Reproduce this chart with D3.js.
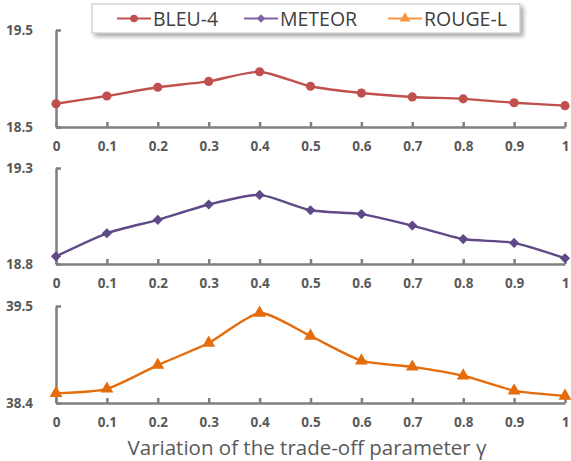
<!DOCTYPE html>
<html>
<head>
<meta charset="utf-8">
<script src="https://cdn.jsdelivr.net/npm/d3@7"></script>
<style>
  body { margin: 0; background: #ffffff; }
  svg { display: block; font-family: "Open Sans", sans-serif; }
  .axis path, .axis line { stroke: #7f7f7f; stroke-width: 2.5; }
  .axis text { fill: #595959; font-size: 13.5px; font-weight: bold; font-family: "Open Sans", sans-serif; }
</style>
</head>
<body>
<svg id="chart" width="571" height="461"></svg>
<script>
// trade-off parameter values along the x axis
var gammas = [0, 0.1, 0.2, 0.3, 0.4, 0.5, 0.6, 0.7, 0.8, 0.9, 1];
var xTickLabels = ["0", "0.1", "0.2", "0.3", "0.4", "0.5", "0.6", "0.7", "0.8", "0.9", "1"];

// scores
var bleu = [18.74, 18.82, 18.91, 18.97, 19.07, 18.92, 18.85, 18.81, 18.79, 18.75, 18.72];
var meteor = [18.84, 18.96, 19.03, 19.11, 19.16, 19.08, 19.06, 19.00, 18.93, 18.91, 18.83];
var rouge = [38.51, 38.56, 38.83, 39.08, 39.42, 39.16, 38.88, 38.81, 38.71, 38.54, 38.48];

// y axis range shown on each panel
var bleuRange = [18.5, 19.5];
var meteorRange = [18.8, 19.3];
var rougeRange = [38.4, 39.5];

var seriesNames = ["BLEU-4", "METEOR", "ROUGE-L"];

var svg = d3.select("#chart");

var x = d3.scaleLinear().domain([0, 1]).range([56, 565]);

var panels = [
    { name: seriesNames[0], values: bleu, range: bleuRange, top: 30, bottom: 127, line: "#c0504d", key: "#c0504d", symbol: d3.symbolCircle, size: 66 },
    { name: seriesNames[1], values: meteor, range: meteorRange, top: 168, bottom: 264, line: "#5f4a87", key: "#8064a2", symbol: d3.symbolDiamond2, size: 66 },
    { name: seriesNames[2], values: rouge, range: rougeRange, top: 306, bottom: 403, line: "#e46c0a", key: "#f79646", symbol: d3.symbolTriangle, size: 72 }
];

panels.forEach(function(p) {
    var y = d3.scaleLinear().domain(p.range).range([p.bottom, p.top]);
    var g = svg.append("g");

    // x axis with small ticks pointing up
    g.append("g")
        .attr("class", "axis")
        .attr("transform", "translate(0," + p.bottom + ")")
        .call(d3.axisBottom(x)
            .tickValues(gammas)
            .tickFormat(function(d, i) { return xTickLabels[i]; })
            .tickSizeInner(-5)
            .tickSizeOuter(0)
            .tickPadding(14));

    // y axis, only the two end values
    g.append("g")
        .attr("class", "axis")
        .attr("transform", "translate(" + x(0) + ",0)")
        .call(d3.axisLeft(y)
            .tickValues(p.range)
            .tickFormat(d3.format(".1f"))
            .tickSizeInner(-5)
            .tickSizeOuter(0)
            .tickPadding(23));

    var line = d3.line()
        .x(function(d, i) { return x(gammas[i]); })
        .y(function(d) { return y(d); })
        .curve(d3.curveCardinal.tension(0.35));

    g.append("path")
        .datum(p.values)
        .attr("d", line)
        .attr("fill", "none")
        .attr("stroke", p.line)
        .attr("stroke-width", 2.4);

    g.selectAll(".mark")
        .data(p.values)
        .enter().append("path")
        .attr("class", "mark")
        .attr("transform", function(d, i) { return "translate(" + x(gammas[i]) + "," + y(d) + ")"; })
        .attr("d", d3.symbol().type(p.symbol).size(p.size))
        .attr("fill", p.line);
});

// x axis title
svg.append("text")
    .attr("x", 307)
    .attr("y", 447)
    .attr("text-anchor", "middle")
    .attr("dominant-baseline", "central")
    .style("font-size", "20.5px")
    .style("fill", "#595959")
    .text("Variation of the trade-off parameter \u03b3");

// legend box with a soft shadow
var defs = svg.append("defs");
var shadow = defs.append("filter").attr("id", "shadow").attr("x", "-10%").attr("y", "-30%").attr("width", "130%").attr("height", "190%");
shadow.append("feDropShadow").attr("dx", 3).attr("dy", 3).attr("stdDeviation", 2)
    .attr("flood-color", "#000").attr("flood-opacity", 0.35);

var legend = svg.append("g");
legend.append("rect")
    .attr("x", 92).attr("y", 4)
    .attr("width", 428).attr("height", 29)
    .attr("fill", "#ffffff")
    .attr("stroke", "#bfbfbf")
    .attr("filter", "url(#shadow)");

var keyX = [117, 244, 388];
panels.forEach(function(p, i) {
    var kx = keyX[i];
    legend.append("line")
        .attr("x1", kx).attr("x2", kx + 34)
        .attr("y1", 18.5).attr("y2", 18.5)
        .attr("stroke", p.key).attr("stroke-width", 2.2);
    legend.append("path")
        .attr("transform", "translate(" + (kx + 17) + ",18.5)")
        .attr("d", d3.symbol().type(p.symbol).size(p.size * 0.7))
        .attr("fill", p.key);
    legend.append("text")
        .attr("x", kx + 36).attr("y", 18.5)
        .attr("dominant-baseline", "central")
        .style("font-size", "19.5px")
        .style("fill", "#404040")
        .text(p.name);
});
</script>
</body>
</html>
